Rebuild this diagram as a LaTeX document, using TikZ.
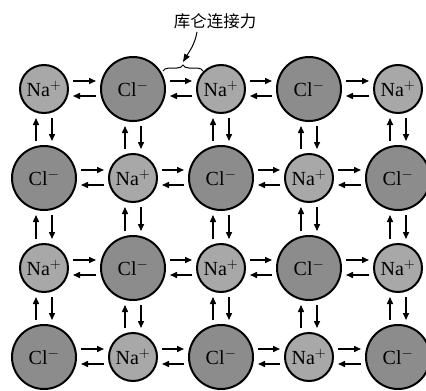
\documentclass[tikz,border=0pt]{standalone}
\usepackage{fontspec}
\setmainfont{Liberation Serif}
\newfontfamily\cjk{Noto Sans CJK SC}
\usetikzlibrary{arrows.meta,decorations.pathreplacing}
\definecolor{clfill}{gray}{0.55}
\definecolor{nafill}{gray}{0.66}
\tikzset{
  ion/.style={circle,draw=black,line width=2pt,inner sep=0pt,font=\fontsize{20}{20}\selectfont},
  clion/.style={ion,fill=clfill,minimum size=64pt},
  naion/.style={ion,fill=nafill,minimum size=48pt},
  arr/.style={line width=1.5pt,-{Triangle[length=7pt,width=6pt]},shorten >=4pt,shorten <=4pt},
  lbl/.style={font=\cjk\fontsize{16.5}{16.5}\selectfont},
}
\begin{document}
\begin{tikzpicture}[x=1pt,y=-1pt]
\clip (0,0) rectangle (426,391);
\useasboundingbox (0,0) rectangle (426,391);
\fill[white] (0,0) rectangle (426,391);
\foreach \r/\y in {1/89,2/178,3/268,4/357}{
  \foreach \c/\x in {1/44,2/133,3/221,4/309,5/398}{
    \pgfmathtruncatemacro{\p}{mod(\r+\c,2)}
    \ifnum\p=0
      \node[naion] (n-\r-\c) at (\x,\y) {Na$^{+}$};
    \else
      \node[clion] (n-\r-\c) at (\x,\y) {Cl$^{-}$};
    \fi
  }
}
% horizontal arrows
\foreach \r in {1,...,4}{
  \foreach \c [evaluate=\c as \d using int(\c+1)] in {1,...,4}{
    \draw[arr] ([yshift=8pt]n-\r-\c.east) -- ([yshift=8pt]n-\r-\d.west);
    \draw[arr] ([yshift=-7pt]n-\r-\d.west) -- ([yshift=-7pt]n-\r-\c.east);
  }
}
% vertical arrows
\foreach \r [evaluate=\r as \s using int(\r+1)] in {1,2,3}{
  \foreach \c in {1,...,5}{
    \draw[arr] ([xshift=-8pt]n-\s-\c.north) -- ([xshift=-8pt]n-\r-\c.south);
    \draw[arr] ([xshift=8pt]n-\r-\c.south) -- ([xshift=8pt]n-\s-\c.north);
  }
}
% brace and label
\coordinate (bl) at (163,71);
\coordinate (br) at (203,71);
\coordinate (bt) at (183,62);
\draw[line width=1pt,decorate,decoration={brace,amplitude=6pt}] (bl) -- (br);
\node[lbl] (lab) at (215,21) {库仑连接力};
\draw[line width=1pt,-{Triangle[length=8pt,width=6pt]}] (197,32) .. controls (195,44) and (189,52) .. (bt);
\end{tikzpicture}
\end{document}
